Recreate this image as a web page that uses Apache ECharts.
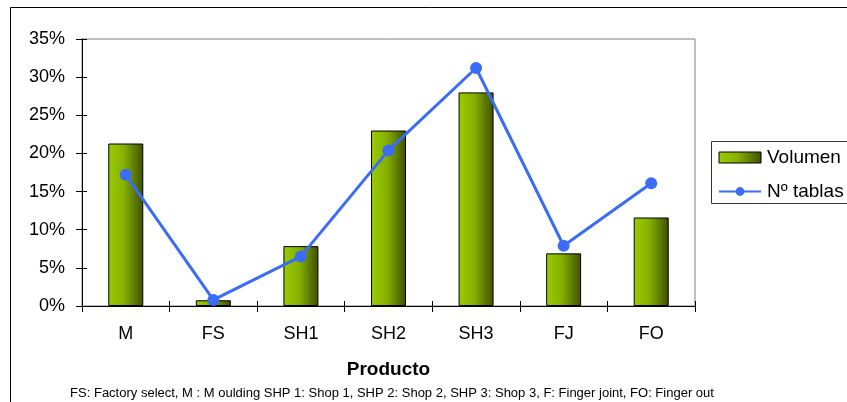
<!DOCTYPE html>
<html>
<head>
<meta charset="utf-8">
<script src="https://cdn.jsdelivr.net/npm/echarts@6/dist/echarts.min.js"></script>
<style>
  html, body { margin: 0; padding: 0; background: #fff; }
  #chart { width: 847px; height: 402px; }
</style>
</head>
<body>
<div id="chart"></div>
<script>
// Product categories and their shares (%)
const categories = ['M', 'FS', 'SH1', 'SH2', 'SH3', 'FJ', 'FO'];
const volumen = [21.3, 0.75, 7.85, 23.0, 28.0, 6.9, 11.6];
const numTablas = [17.2, 0.8, 6.5, 20.4, 31.2, 7.9, 16.1];
const yTicks = { min: 0, max: 35, interval: 5 };
const footnote = 'FS: Factory select, M : M oulding SHP 1: Shop 1, SHP 2: Shop 2, SHP 3: Shop 3, F: Finger joint, FO: Finger out';

const chart = echarts.init(document.getElementById('chart'));
const font = '"Liberation Sans", Arial, sans-serif';

const barFill = new echarts.graphic.LinearGradient(0, 0, 1, 0, [
  { offset: 0, color: '#9acc00' },
  { offset: 0.45, color: '#86b000' },
  { offset: 1, color: '#3e4f00' }
]);

chart.setOption({
  animation: false,
  backgroundColor: '#fff',
  textStyle: { fontFamily: font },
  grid: {
    left: 82, right: 152, top: 39, bottom: 96,
    show: true, borderColor: '#808080', borderWidth: 1
  },
  legend: {
    left: 718, top: 147, orient: 'vertical',
    itemWidth: 42, itemHeight: 11, itemGap: 13, padding: 0,
    textStyle: { fontSize: 19, color: '#000', fontFamily: font, lineHeight: 21, padding: [0, 0, 0, 1] },
    data: [
      { name: 'Volumen', icon: 'rect', itemStyle: { color: barFill, borderColor: '#000', borderWidth: 1 } },
      { name: 'Nº tablas' }
    ]
  },
  graphic: [
    { type: 'rect', shape: { x: 10.5, y: 7.5, width: 900, height: 500 },
      style: { fill: 'none', stroke: '#000', lineWidth: 1 }, z: -1 },
    { type: 'rect', shape: { x: 711.5, y: 141.5, width: 150, height: 62 },
      style: { fill: 'none', stroke: '#333', lineWidth: 1 }, z: 10 },
    { type: 'text', x: 392, y: 393,
      style: { text: footnote, font: '13px ' + font, fill: '#000', align: 'center', verticalAlign: 'middle' } }
  ],
  xAxis: [
    {
      type: 'category', data: categories,
      axisLine: { lineStyle: { color: '#000', width: 1 } },
      axisTick: { show: true, length: 6, lineStyle: { color: '#000' } },
      axisLabel: { fontSize: 18, color: '#000', margin: 19, fontFamily: font },
      name: 'Producto', nameLocation: 'middle', nameGap: 54,
      nameTextStyle: { fontSize: 19, fontWeight: 'bold', color: '#000', fontFamily: font }
    },
    {
      type: 'category', data: categories, position: 'bottom',
      axisLine: { show: false },
      axisTick: { show: true, inside: true, length: 5, lineStyle: { color: '#000' } },
      axisLabel: { show: false }
    }
  ],
  yAxis: [
    {
      type: 'value', min: yTicks.min, max: yTicks.max, interval: yTicks.interval,
      axisLine: { show: true, lineStyle: { color: '#000', width: 1 } },
      axisTick: { show: true, length: 6, lineStyle: { color: '#000' } },
      axisLabel: { fontSize: 18, color: '#000', margin: 17, formatter: '{value}%', fontFamily: font },
      splitLine: { show: false }
    },
    {
      type: 'value', min: yTicks.min, max: yTicks.max, interval: yTicks.interval, position: 'left',
      axisLine: { show: false },
      axisTick: { show: true, inside: true, length: 5, lineStyle: { color: '#000' } },
      axisLabel: { show: false },
      splitLine: { show: false }
    }
  ],
  series: [
    {
      name: 'Volumen', type: 'bar', data: volumen, barWidth: 35,
      itemStyle: { color: barFill, borderColor: '#000', borderWidth: 1 }
    },
    {
      name: 'Nº tablas', type: 'line', data: numTablas,
      symbol: 'circle', symbolSize: 12,
      lineStyle: { color: '#3a6cf6', width: 3 },
      itemStyle: { color: '#3a6cf6' },
      z: 5
    }
  ]
});
</script>
</body>
</html>
